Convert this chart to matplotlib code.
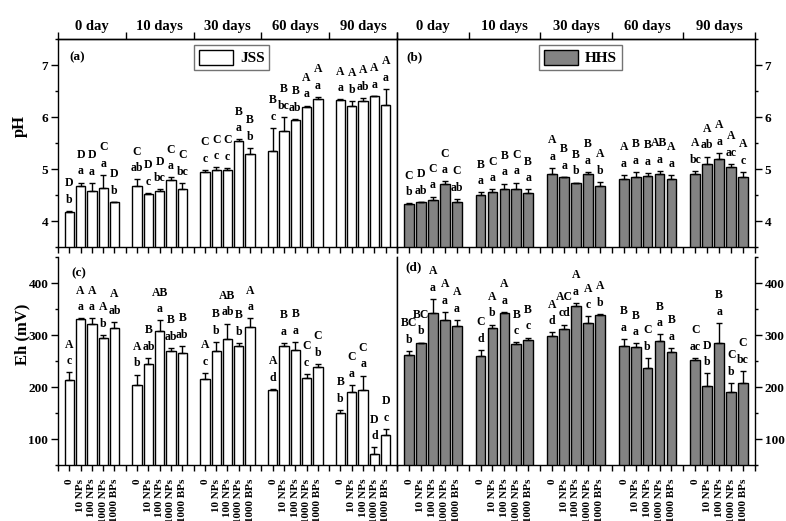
import numpy as np
import matplotlib.pyplot as plt
from matplotlib.patches import Patch
from matplotlib.ticker import MultipleLocator

plt.rcParams['font.family'] = ['Liberation Serif', 'DejaVu Serif']
plt.rcParams['font.weight'] = 'bold'
plt.rcParams['axes.linewidth'] = 1.0

groups = ['0 day', '10 days', '30 days', '60 days', '90 days']
treatments = ['0', '10 NPs', '100 NPs', '1000 NPs', '1000 BPs']

# pH, JSS soil (rows = sampling day, columns = treatment)
ph_jss = [[4.17, 4.68, 4.58, 4.63, 4.36],
          [4.68, 4.52, 4.58, 4.78, 4.62],
          [4.94, 4.99, 4.98, 5.54, 5.29],
          [5.34, 5.73, 5.95, 6.20, 6.34],
          [6.33, 6.21, 6.30, 6.40, 6.24]]
ph_jss_sd = [[0.02, 0.06, 0.15, 0.26, 0.01],
             [0.12, 0.02, 0.03, 0.06, 0.11],
             [0.04, 0.04, 0.04, 0.03, 0.12],
             [0.45, 0.27, 0.01, 0.02, 0.04],
             [0.01, 0.10, 0.07, 0.01, 0.30]]
ph_jss_up = [['D', 'D', 'D', 'C', 'D'], ['C', 'D', 'D', 'C', 'C'],
             ['C', 'C', 'C', 'B', 'B'], ['B', 'B', 'B', 'A', 'A'],
             ['A', 'A', 'A', 'A', 'A']]
ph_jss_low = [['b', 'a', 'a', 'a', 'b'], ['ab', 'c', 'bc', 'a', 'bc'],
              ['c', 'c', 'c', 'a', 'b'], ['c', 'bc', 'ab', 'a', 'a'],
              ['a', 'b', 'ab', 'a', 'a']]

# pH, HHS soil
ph_hhs = [[4.32, 4.36, 4.40, 4.72, 4.37],
          [4.50, 4.56, 4.61, 4.62, 4.53],
          [4.91, 4.84, 4.73, 4.91, 4.67],
          [4.81, 4.84, 4.86, 4.91, 4.80],
          [4.91, 5.09, 5.20, 5.04, 4.85]]
ph_hhs_sd = [[0.02, 0.01, 0.07, 0.04, 0.06],
             [0.05, 0.05, 0.11, 0.12, 0.08],
             [0.11, 0.01, 0.01, 0.03, 0.08],
             [0.08, 0.10, 0.07, 0.05, 0.09],
             [0.05, 0.15, 0.11, 0.06, 0.09]]
ph_hhs_up = [['C', 'D', 'C', 'C', 'C'], ['B', 'C', 'B', 'C', 'B'],
             ['A', 'B', 'B', 'B', 'A'], ['A', 'B', 'B', 'AB', 'A'],
             ['A', 'A', 'A', 'A', 'A']]
ph_hhs_low = [['b', 'ab', 'a', 'a', 'ab'], ['a', 'a', 'a', 'a', 'a'],
              ['a', 'a', 'b', 'a', 'b'], ['a', 'a', 'a', 'a', 'a'],
              ['bc', 'ab', 'a', 'ac', 'c']]

# Eh (mV), JSS soil
eh_jss = [[214, 331, 322, 295, 313],
          [204, 244, 308, 269, 266],
          [215, 269, 293, 279, 316],
          [195, 278, 271, 217, 239],
          [150, 190, 195, 71, 107]]
eh_jss_sd = [[14, 1, 10, 5, 12],
             [20, 12, 20, 6, 13],
             [12, 18, 29, 6, 16],
             [1.5, 7, 16, 8, 5],
             [6, 14, 27, 13, 12]]
eh_jss_up = [['A', 'A', 'A', 'A', 'A'], ['A', 'B', 'AB', 'B', 'B'],
             ['A', 'B', 'AB', 'B', 'A'], ['A', 'B', 'B', 'C', 'C'],
             ['B', 'C', 'C', 'D', 'D']]
eh_jss_low = [['c', 'a', 'a', 'b', 'ab'], ['b', 'ab', 'a', 'ab', 'ab'],
              ['c', 'b', 'ab', 'b', 'a'], ['d', 'a', 'a', 'c', 'b'],
              ['b', 'a', 'a', 'd', 'c']]

# Eh (mV), HHS soil
eh_hhs = [[262, 284, 342, 329, 318],
          [259, 314, 342, 282, 290],
          [298, 312, 356, 323, 339],
          [278, 276, 236, 288, 267],
          [251, 202, 285, 190, 208]]
eh_hhs_sd = [[7, 1.5, 27, 15, 11],
             [12, 6, 2, 4, 5],
             [7, 8, 6, 13, 1.5],
             [15, 8, 20, 13, 8],
             [4.5, 24, 38, 18, 23]]
eh_hhs_up = [['BC', 'BC', 'A', 'A', 'A'], ['C', 'A', 'A', 'B', 'B'],
             ['A', 'AC', 'A', 'A', 'A'], ['B', 'B', 'C', 'B', 'B'],
             ['C', 'D', 'B', 'C', 'C']]
eh_hhs_low = [['b', 'b', 'a', 'a', 'a'], ['d', 'b', 'a', 'c', 'c'],
              ['d', 'cd', 'a', 'c', 'b'], ['a', 'a', 'b', 'a', 'a'],
              ['ac', 'b', 'a', 'b', 'bc']]

# bar positions: 5 bars per day, one empty slot between days
xpos = np.array([6 * g + i + 1 for g in range(5) for i in range(5)])


def bars(ax, vals, sd, up, low, face):
    v = np.ravel(vals)
    e = np.ravel(sd)
    ax.bar(xpos, v, width=0.82, color=face, edgecolor='black',
           linewidth=1.0, zorder=2)
    ax.errorbar(xpos, v, yerr=[np.zeros_like(e), e], fmt='none',
                ecolor='black', elinewidth=1.0, capsize=2.5, capthick=1.0,
                zorder=3)
    for xi, top, u, l in zip(xpos, v + e, np.ravel(up), np.ravel(low)):
        ax.annotate(l, (xi, top), xytext=(0, 8), textcoords='offset points',
                    ha='center', va='center', fontsize=8.5)
        ax.annotate(u, (xi, top), xytext=(0, 20), textcoords='offset points',
                    ha='center', va='center', fontsize=8.5)


def style(ax, top_row, right_side):
    ax.set_xlim(0, 30)
    ax.tick_params(axis='both', which='major', direction='out', length=5,
                   width=1.0, labelsize=9.5, pad=2)
    ax.tick_params(axis='y', which='minor', direction='out', length=2.5,
                   width=1.0)
    if right_side:
        ax.yaxis.tick_right()
        ax.tick_params(axis='y', which='both', left=False, right=True)
    else:
        ax.tick_params(axis='y', which='both', left=True, right=False)
    if top_row:
        ax.set_xticks(np.arange(31))
        ax.tick_params(axis='x', labelbottom=False, length=4)
        sec = ax.secondary_xaxis('top')
        sec.set_xticks(np.arange(0, 31, 6), labels=[''] * 6)
        sec.set_xticks(np.arange(3, 30, 6), labels=groups, minor=True)
        sec.tick_params(which='major', direction='out', length=5, width=1.0)
        sec.tick_params(which='minor', length=0, pad=4, labelsize=10.5)
    else:
        ax.spines['top'].set_visible(False)
        labs = [treatments[k % 6 - 1] if k % 6 else '' for k in range(31)]
        ax.set_xticks(np.arange(31), labels=labs, rotation=90, fontsize=8,
                      va='top')
        ax.tick_params(axis='x', length=4, pad=6)


fig = plt.figure(figsize=(7.86, 5.21), dpi=100)
W, H = 786, 521
ax_a = fig.add_axes([58 / W, 274 / H, 339 / W, 208 / H])
ax_b = fig.add_axes([397 / W, 274 / H, 358 / W, 208 / H])
ax_c = fig.add_axes([58 / W, 56 / H, 339 / W, 208 / H])
ax_d = fig.add_axes([397 / W, 56 / H, 358 / W, 208 / H])

bars(ax_a, ph_jss, ph_jss_sd, ph_jss_up, ph_jss_low, 'white')
bars(ax_b, ph_hhs, ph_hhs_sd, ph_hhs_up, ph_hhs_low, '#838383')
bars(ax_c, eh_jss, eh_jss_sd, eh_jss_up, eh_jss_low, 'white')
bars(ax_d, eh_hhs, eh_hhs_sd, eh_hhs_up, eh_hhs_low, '#838383')

for ax in (ax_a, ax_b):
    ax.set_ylim(3.5, 7.5)
    ax.yaxis.set_major_locator(MultipleLocator(1))
    ax.yaxis.set_minor_locator(MultipleLocator(0.5))
for ax in (ax_c, ax_d):
    ax.set_ylim(50, 450)
    ax.yaxis.set_major_locator(MultipleLocator(100))
    ax.yaxis.set_minor_locator(MultipleLocator(50))

style(ax_a, True, False)
style(ax_b, True, True)
style(ax_c, False, False)
style(ax_d, False, True)

for ax, lab, lx, ly in ((ax_a, '(a)', 0.035, 0.91), (ax_b, '(b)', 0.027, 0.91),
                        (ax_c, '(c)', 0.04, 0.92), (ax_d, '(d)', 0.022, 0.95)):
    ax.text(lx, ly, lab, transform=ax.transAxes, ha='left', va='center',
            fontsize=9.5)

for ax, face, name in ((ax_a, 'white', 'JSS'), (ax_b, '#838383', 'HHS')):
    ax.legend(handles=[Patch(facecolor=face, edgecolor='black', label=name)],
              loc='center', bbox_to_anchor=(0.513, 0.91), fancybox=False,
              edgecolor='0.45', framealpha=1, handlelength=2.2,
              handleheight=1.1, handletextpad=0.5, borderpad=0.3,
              prop={'weight': 'bold', 'size': 11})

fig.text(20 / W, 1 - 126 / H, 'pH', rotation=90, ha='center', va='center',
         fontsize=12)
fig.text(22 / W, 1 - 334 / H, 'Eh (mV)', rotation=90, ha='center',
         va='center', fontsize=12)

plt.savefig('out.png', dpi=100)
